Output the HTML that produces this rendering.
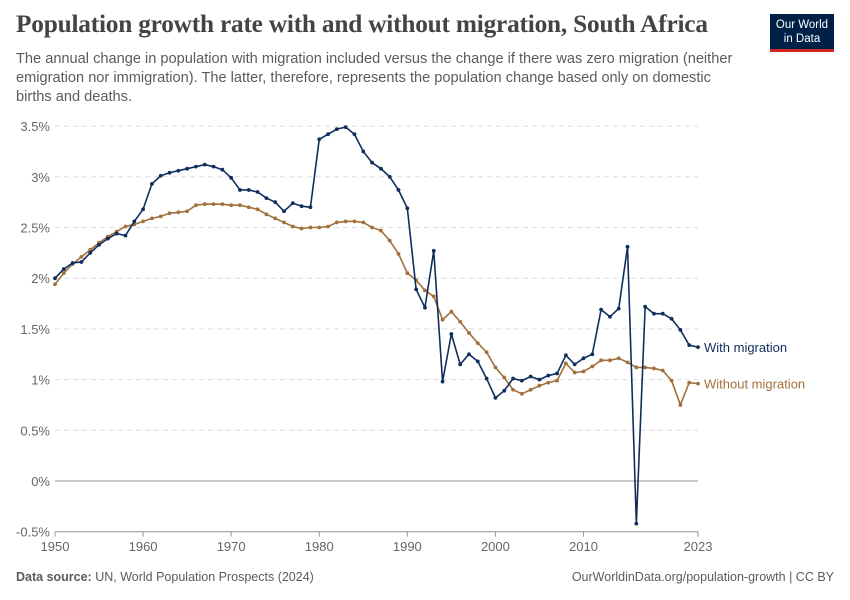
<!DOCTYPE html>
<html><head><meta charset="utf-8"><style>
body{margin:0;background:#fff;font-family:"Liberation Sans",sans-serif;}
#wrap{position:relative;width:850px;height:600px;overflow:hidden;}
h1{position:absolute;left:16px;top:10px;margin:0;font-family:"Liberation Serif",serif;font-size:25.3px;font-weight:bold;color:#444;letter-spacing:-0.2px}
.sub{position:absolute;left:16px;top:50px;width:725px;font-size:14.6px;line-height:19px;color:#5b5b5b;margin:0}
.logo{position:absolute;left:770px;top:14px;width:64px;height:38px;background:#002147;color:#fff;font-size:11.5px;line-height:14px;text-align:center;padding-top:4px;box-sizing:border-box;border-bottom:3px solid #ce261e}
.foot{position:absolute;top:570px;font-size:12.5px;color:#5b5b5b}
</style></head><body><div id="wrap">
<h1>Population growth rate with and without migration, South Africa</h1>
<p class="sub">The annual change in population with migration included versus the change if there was zero migration (neither emigration nor immigration). The latter, therefore, represents the population change based only on domestic births and deaths.</p>
<div class="logo">Our World<br>in Data</div>
<svg id="plot" width="850" height="600" style="position:absolute;left:0;top:0"></svg>
<div class="foot" style="left:16px"><b>Data source:</b> UN, World Population Prospects (2024)</div>
<div class="foot" style="right:16px">OurWorldinData.org/population-growth | CC BY</div>
</div>
<script>
const years=[];for(let y=1950;y<=2023;y++)years.push(y);
const withMig=[2.0,2.09,2.15,2.16,2.25,2.33,2.39,2.44,2.42,2.56,2.68,2.93,3.01,3.04,3.06,3.08,3.10,3.12,3.10,3.07,2.99,2.87,2.87,2.85,2.79,2.75,2.66,2.74,2.71,2.70,3.37,3.42,3.47,3.49,3.42,3.25,3.14,3.08,3.00,2.87,2.69,1.89,1.71,2.27,0.98,1.45,1.15,1.25,1.18,1.01,0.82,0.89,1.01,0.99,1.03,1.00,1.04,1.06,1.24,1.15,1.21,1.25,1.69,1.62,1.70,2.31,-0.42,1.72,1.65,1.65,1.60,1.49,1.34,1.32];
const withoutMig=[1.94,2.05,2.14,2.21,2.28,2.35,2.41,2.46,2.51,2.53,2.56,2.59,2.61,2.64,2.65,2.66,2.72,2.73,2.73,2.73,2.72,2.72,2.70,2.68,2.63,2.59,2.55,2.51,2.49,2.50,2.50,2.51,2.55,2.56,2.56,2.55,2.50,2.47,2.37,2.24,2.05,1.98,1.88,1.82,1.59,1.67,1.57,1.46,1.36,1.27,1.12,1.02,0.90,0.86,0.90,0.94,0.97,0.99,1.16,1.07,1.08,1.13,1.19,1.19,1.21,1.17,1.12,1.12,1.11,1.09,0.99,0.75,0.97,0.96];
const yTicks=[-0.5,0,0.5,1,1.5,2,2.5,3,3.5];
const xTicks=[1950,1960,1970,1980,1990,2000,2010,2023];
const X=y=>55+(y-1950)*(698-55)/73;
const Y=v=>481-v*101.4;
const svg=document.getElementById('plot');const NS='http://www.w3.org/2000/svg';
function mk(t,a){const e=document.createElementNS(NS,t);for(const k in a)e.setAttribute(k,a[k]);svg.appendChild(e);return e;}
yTicks.forEach(v=>{
 const l=mk('line',{x1:55,x2:698,y1:Y(v),y2:Y(v),stroke:v===0?'#999':'#ddd','stroke-dasharray':v===0?'':'5,4'});
 
 
 const t=mk('text',{x:50,y:Y(v)+5,'text-anchor':'end','font-size':13,fill:'#666','font-family':'Liberation Sans'});
 t.textContent=v+'%';
 
 
});
const ax=mk('line',{x1:55,x2:698,y1:Y(-0.5),y2:Y(-0.5),stroke:'#999'});


xTicks.forEach(y=>{
 const tk=mk('line',{x1:X(y),x2:X(y),y1:Y(-0.5),y2:Y(-0.5)+5,stroke:'#999'});
 
 
 const t=mk('text',{x:X(y),y:551,'text-anchor':'middle','font-size':13,fill:'#666','font-family':'Liberation Sans'});
 t.textContent=y;
 
 
});
function series(vals,color,name,label){
 const p=mk('polyline',{points:vals.map((v,i)=>X(years[i])+','+Y(v)).join(' '),fill:'none',stroke:color,'stroke-width':1.6});
 
 
 vals.forEach((v,i)=>{const c=mk('circle',{cx:X(years[i]),cy:Y(v),r:1.9,fill:color});
  
  });
 const t=mk('text',{x:704,y:Y(vals[vals.length-1])+5,'font-size':13,fill:color,'font-family':'Liberation Sans'});
 t.textContent=label;
 
 
}
series(withoutMig,'#a2703c','without-migration','Without migration');
series(withMig,'#0f2e5e','with-migration','With migration');
</script></body></html>
